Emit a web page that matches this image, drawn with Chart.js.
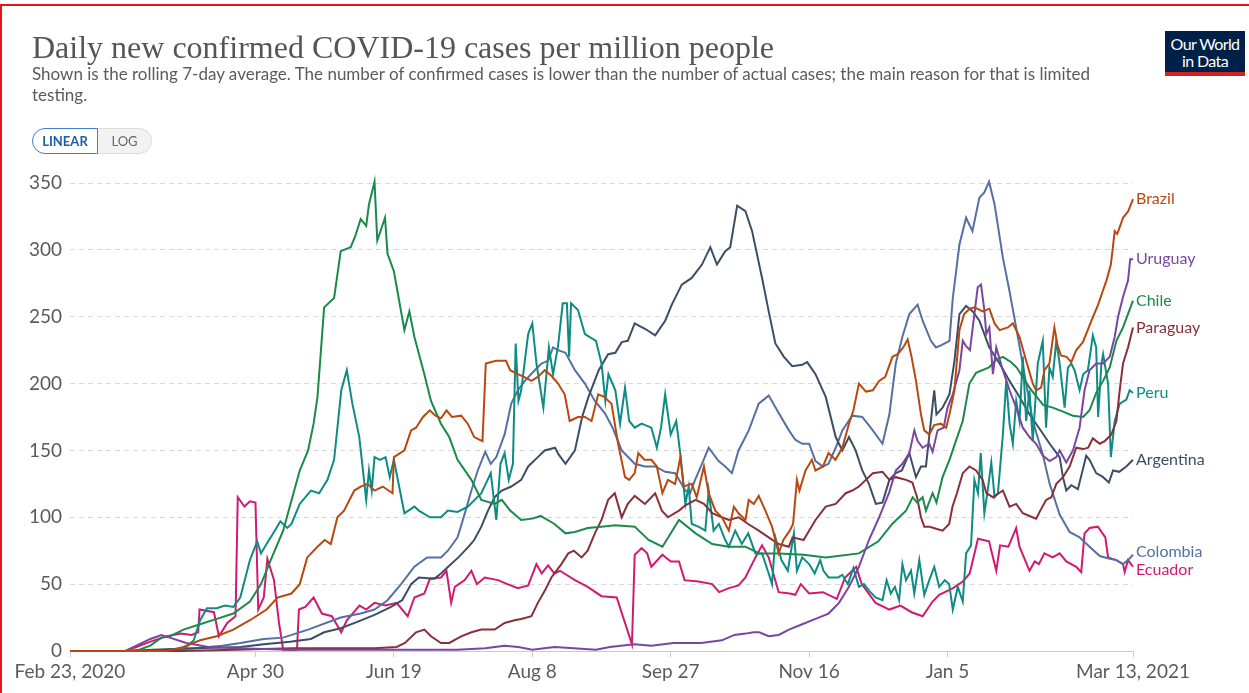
<!DOCTYPE html>
<html>
<head>
<meta charset="utf-8">
<title>Daily new confirmed COVID-19 cases per million people</title>
<script src="https://cdn.jsdelivr.net/npm/chart.js@4.4.1/dist/chart.umd.min.js"></script>
<style>
  html, body { margin: 0; padding: 0; background: #fff; }
  body { width: 1249px; height: 693px; position: relative; overflow: hidden; font-family: Lato, sans-serif; }
  #chart { position: absolute; left: 0; top: 0; }
  #frame { position: absolute; left: 0; top: 4px; width: 1270px; height: 720px; border: 2px solid #e3141b; box-sizing: border-box; pointer-events: none; }
  h1 { position: absolute; left: 32px; top: 31px; margin: 0; font: 400 32px/32px "Liberation Serif", serif; color: #555; white-space: nowrap; }
  .sub { position: absolute; left: 32px; top: 63px; width: 1085px; font: 17px/21px Lato, sans-serif; color: #5b5b5b; }
  .toggle { position: absolute; left: 32px; top: 128px; height: 26px; display: flex; font: 700 13px/24px Lato, sans-serif; }
  .toggle span { display: block; box-sizing: border-box; height: 26px; text-align: center; }
  .toggle .on { width: 66px; border: 1px solid #3f7fcf; border-radius: 13px 0 0 13px; color: #1d5ea8; background: #fff; }
  .toggle .off { width: 54px; border: 1px solid #ddd; border-left: none; border-radius: 0 13px 13px 0; color: #666; background: #f2f2f2; font-weight: 400; }
  .logo { position: absolute; left: 1165px; top: 31px; width: 80px; height: 45px; background: #002147; border-bottom: 4px solid #ce261e; box-sizing: border-box; color: #fff; text-align: center; font: 16px/17px Lato, sans-serif; padding-top: 4px; letter-spacing: -0.6px; }
</style>
</head>
<body>
<canvas id="chart" width="1249" height="693"></canvas>
<h1>Daily new confirmed COVID-19 cases per million people</h1>
<div class="sub">Shown is the rolling 7-day average. The number of confirmed cases is lower than the number of actual cases; the main reason for that is limited testing.</div>
<div class="toggle"><span class="on">LINEAR</span><span class="off">LOG</span></div>
<div class="logo">Our World<br>in Data</div>
<div id="frame"></div>
<script>
// days since Feb 23, 2020 on the x axis
const tickDays = [0, 67, 117, 167, 217, 267, 317, 384];
const tickLabels = ['Feb 23, 2020', 'Apr 30', 'Jun 19', 'Aug 8', 'Sep 27', 'Nov 16', 'Jan 5', 'Mar 13, 2021'];

const countries = ['Brazil', 'Uruguay', 'Chile', 'Paraguay', 'Peru', 'Argentina', 'Colombia', 'Ecuador'];
const colors = ['#b8480f', '#7a46a0', '#1a8a4a', '#883039', '#0e8c84', '#3c4e66', '#5570a2', '#d01a72'];

// [day, cases per million]
const brazil = [[0,0],[35,0],[41,3],[47,8],[53,11],[59,16],[65,23],[71,31],[75,40],[80,43],[83,50],[85.7,70],[89.4,78],[92,83],[94.2,80],[96.6,100],[99,105],[102.7,120],[105,123],[107.5,125],[110,120],[113,123],[116.5,118],[117,145],[120.8,150],[123.2,165],[125,167],[127.5,175],[130,180],[132,176],[134,174],[136,180],[138,175],[141.3,176],[143.7,170],[146,160],[149,157],[150.2,215],[153.9,217],[157.5,217],[159,210],[161.8,207],[164,205],[166.7,202],[169,205],[171.5,210],[173.8,206],[176.3,200],[178.7,192],[180.5,172],[183.5,175],[186,175],[188.4,172],[190.8,192],[193,190],[195.6,185],[198,155],[200.5,130],[202,128],[204,133],[205.3,148],[207.5,143],[210,143],[212,138],[214,118],[216,128],[218.6,125],[220.5,145],[221.7,123],[224.6,125],[226.4,115],[229,138],[230.7,118],[233.1,105],[235.5,100],[238,90],[239.8,108],[241.5,103],[244,98],[245.2,113],[247,110],[248.8,116],[251.2,105],[253.6,93],[256,73],[257.7,83],[260,90],[261.2,95],[262.6,128],[263.5,120],[265.7,135],[268,143],[269.3,135],[272,138],[274,148],[276.5,143],[279,152],[281.4,170],[283,180],[285,200],[287.5,194],[290,195],[292.3,202],[294.5,205],[297.1,220],[299,222],[301,227],[302.6,233],[304,220],[305.6,202],[307.4,177],[308.6,165],[310.4,162],[312.2,169],[314.6,170],[316.5,167],[317.7,177],[319.5,195],[321.3,240],[323,252],[325,256],[326.7,257],[329.7,254],[332.1,256],[334,245],[335.8,240],[338.8,242],[340.6,245],[343,235],[345.4,217],[347.8,200],[349,195],[350.8,197],[352,210],[353.8,215],[355.6,242],[356.8,228],[358,221],[360,220],[361.7,216],[363.5,225],[365.9,231],[369,247],[371.4,259],[373.2,270],[374.4,277],[376,289],[377.4,314],[378.3,312],[379.2,317],[380.4,324],[382.3,329],[384,338]];

const uruguay = [[0,0],[20,0],[24,4],[29,9],[33,12],[36,10],[42,6],[50,3],[60,2],[80,1],[100,1],[120,1],[140,1],[150,2],[157,4],[162,3],[167,1],[175,3],[182,2],[190,1],[195,3],[199,4],[204,5],[210,4],[218,6],[228,6],[235.5,8],[240,12],[244,13],[247,14],[249,14],[252.4,11],[256,12],[259.7,16],[264.5,20],[269.3,24],[274,28],[277.8,36],[281.4,48],[285,63],[288.6,83],[292.3,100],[296,119],[298.3,135],[300.7,140],[303.2,148],[305,165],[306.2,157],[308,152],[310.4,155],[311.6,149],[313.4,165],[315.6,167],[317,182],[318.9,192],[321.3,210],[322.5,232],[323.7,228],[325.1,225],[326.7,252],[327.9,272],[329.1,274],[330.3,255],[331,237],[332.1,242],[333.4,207],[334.6,227],[337,210],[339.4,195],[341.8,182],[344.2,167],[346.6,160],[349,155],[351.5,146],[353.9,142],[356.3,145],[357.5,150],[359.9,141],[362.3,150],[364.7,167],[366.5,195],[368.3,210],[370.7,215],[373.2,215],[375.6,220],[377.4,235],[378.6,250],[380.4,265],[382.2,277],[383,293],[384,293]];

const chile = [[0,0],[22,0],[25,1],[29,4],[33,10],[36,11],[41,16],[47,20],[53,24],[59,28],[65,37],[69,50],[72.5,68],[77,90],[81,120],[83,135],[86,150],[88,170],[89.4,190],[91.8,257],[95.4,264],[97.8,299],[101.4,302],[103,310],[105,323],[107,318],[108,334],[110,351],[111,307],[113.8,324],[114.7,297],[117,284],[120.8,240],[122.6,254],[124.4,235],[128,207],[130.4,187],[134,170],[137,160],[140,143],[145,128],[148.6,113],[153.4,110],[156,113],[159,105],[163,98],[167,99],[170,101],[175,95],[179,88],[182.4,89],[187,92],[192,93],[197,94],[204,93],[209,83],[214,78],[220,98],[226,88],[232,80],[238,78],[244,78],[249,73],[256,73],[265,72],[273,70],[285,73],[292,82],[297,95],[302,105],[304.4,115],[306,111],[308,115],[309.2,105],[311.6,118],[313,111],[315.2,130],[317.7,143],[320,157],[322.5,172],[324.9,200],[327.3,208],[332,212],[334.6,218],[337,220],[340,216],[342,212],[346.6,197],[351.5,184],[355,182],[358.7,179],[362.3,176],[366,175],[368.3,180],[370.7,193],[373.2,202],[375.6,212],[378,232],[380.4,242],[384,262]];

const paraguay = [[0,0],[40,0],[60,1],[80,2],[100,2],[110,2],[118,3],[121,6],[125,14],[128,16],[130.4,11],[134,6],[137,6],[141.3,11],[145,14],[148.6,16],[153.4,16],[157,21],[160.6,23],[163,24],[166.7,26],[169,36],[171.5,45],[173.9,55],[177.5,65],[180,73],[182,75],[184.8,70],[187,75],[189.6,88],[192,98],[194.4,113],[196.8,118],[199.3,100],[201.5,110],[204,116],[207.7,110],[211.4,118],[213.8,105],[216,100],[220,105],[222.3,109],[226,113],[229,110],[232,103],[235.5,100],[238,98],[241.5,100],[245,95],[248.8,90],[252.4,85],[256,80],[259.7,78],[261,85],[265,83],[267,90],[269.3,98],[273,108],[276.6,110],[280.2,118],[282.6,120],[285,123],[287.5,128],[290,133],[293.5,134],[296,128],[298.3,130],[302,128],[304.3,126],[306,115],[307.4,100],[308.6,93],[310.4,93],[312,92],[315.2,90],[317.6,95],[318.8,108],[320.4,118],[322.5,133],[324.9,138],[327.3,135],[329.7,128],[331,118],[333.4,115],[337,120],[339.4,108],[341.8,110],[344.2,103],[346.6,101],[349,99],[350.5,105],[352.6,113],[354.5,115],[356.3,125],[358.7,130],[361.1,138],[363.5,152],[366,151],[367.8,152],[369.5,159],[372,155],[373.8,157],[376.2,162],[378,172],[379.2,195],[380.4,215],[382.2,227],[384,242]];

const peru = [[0,0],[38,0],[42,3],[44.7,8],[47,23],[49.5,32],[53,32],[56,34],[59,33],[61.5,40],[65,68],[67.6,82],[69,73],[71,80],[73.7,89],[76,97],[78.5,92],[80,95],[83,110],[87,120],[90,118],[93,128],[95.4,143],[98,195],[100,210],[102,185],[104.5,160],[107,113],[108,135],[109,120],[110,145],[112,143],[114,145],[115.5,130],[117,143],[120.8,103],[124.4,108],[126,105],[130,100],[134,100],[136.5,105],[140,104],[143.7,108],[148.6,118],[152,133],[154,98],[155.5,140],[157,148],[158.5,128],[160,140],[161,230],[162,187],[163,195],[165.5,237],[167,245],[168.5,215],[171,182],[173,227],[174.5,207],[176.3,228],[178,260],[179.5,260],[180.3,220],[181,260],[183.5,255],[186,237],[190,232],[192,215],[193.4,187],[194.5,207],[197,195],[198.7,170],[200.5,197],[202,172],[204,167],[206.5,170],[210,167],[212,152],[213.5,167],[215,192],[217,162],[219,172],[220.5,147],[222.3,110],[223.5,123],[224.6,95],[227,93],[229.5,90],[230.7,120],[232.5,90],[234.4,95],[236.7,83],[238,78],[240.3,90],[242.7,80],[245,88],[247.6,73],[250,73],[252.4,58],[253.6,50],[254.8,85],[257,68],[259.3,60],[261.5,88],[262.6,60],[264.5,70],[267,65],[269,58],[271,68],[272.2,60],[274,55],[277.5,55],[279,57],[281,50],[283,62],[285,48],[286.8,50],[288.7,45],[291,40],[293.5,38],[295,53],[296.5,43],[298,48],[299.5,38],[300.7,65],[302,53],[303.8,60],[305,43],[306.8,68],[308.6,42],[310.4,53],[312.2,63],[314,48],[316,53],[317.6,50],[318.9,31],[320.7,48],[322.5,37],[323.7,73],[325.5,79],[326.7,128],[328,118],[329,148],[330.3,103],[331.5,120],[332.8,141],[334,115],[335.2,118],[337,162],[338.2,202],[339.4,170],[340.6,155],[341.8,187],[343,172],[344.2,220],[345.4,172],[346.6,195],[347.8,157],[349.6,215],[351.4,232],[352.6,167],[353.8,212],[355,205],[356.3,232],[357.5,215],[359.3,182],[360.5,212],[361.7,215],[362.9,210],[364.7,195],[366,207],[367.7,210],[369.5,236],[370.7,227],[371.4,175],[372.6,215],[373.2,222],[375,200],[376,145],[377.4,172],[379.2,185],[381.6,188],[382.8,195],[384,193]];

const argentina = [[0,0],[20,0],[30,1],[45,2],[61.6,3],[70,5],[79.5,7],[87,9],[91.8,14],[97.8,17],[104,22],[110,27],[116,33],[120,38],[123.2,50],[126,55],[131.6,54],[134,58],[136.6,63],[140.3,70],[144,78],[146,83],[148.6,93],[151,105],[153.4,115],[156,120],[159.4,123],[163,128],[165.5,138],[169,145],[171.5,150],[175.2,152],[176.5,147],[179,140],[182.4,150],[185,175],[187.3,190],[191,210],[194.4,222],[197,223],[199.3,231],[201.5,232],[204,245],[207.7,241],[211.4,236],[215,247],[217.4,259],[221,274],[224.6,279],[228.3,289],[231.3,302],[233.7,289],[236.7,299],[238.5,302],[241,333],[244,329],[246.4,314],[250,279],[252.4,254],[254.8,230],[257.9,220],[260.9,213],[264.5,214],[266.3,216],[269.3,207],[273,190],[276.6,160],[279,150],[281.4,160],[283.8,150],[286.2,135],[288.6,125],[291.1,110],[293.5,111],[296,128],[298.3,133],[300.5,135],[303.2,148],[305.6,130],[307.4,138],[309.2,138],[312.2,195],[313,177],[315.2,182],[317.7,192],[319.5,217],[321.3,252],[323.7,258],[326.1,254],[328.5,247],[332.1,227],[335.8,215],[339.4,202],[343,190],[346.6,177],[350.3,166],[353.9,155],[357.5,145],[358.7,130],[359.9,120],[361.7,124],[364.1,121],[367.1,146],[368.3,143],[370.7,133],[373.2,130],[375.3,126],[376.8,135],[379,134],[381.6,138],[384,143]];

const colombia = [[0,0],[30,0],[35,1],[45,2],[55,4],[61.6,6],[70,9],[77,10],[86,16],[97.8,25],[105,28],[110,31],[114.7,38],[119.6,50],[124.4,63],[129,70],[134,70],[136.5,75],[140,85],[142.5,102],[145,120],[147.3,135],[150,149],[152,140],[154,145],[157,162],[159.4,185],[161.8,195],[164.3,202],[167.9,210],[170.3,215],[172.7,217],[174.5,227],[176.3,225],[179,223],[182.4,210],[186,200],[189.6,187],[193.2,178],[196,167],[199.3,150],[204,140],[207.7,138],[211.4,138],[215,134],[218.6,133],[222.3,120],[224,118],[225.8,128],[228.3,140],[230.7,152],[234.3,142],[236.7,138],[239.1,133],[241.5,150],[245.2,165],[248.8,185],[252.4,191],[256,178],[259.7,165],[262,158],[264.5,155],[267,155],[269.3,142],[272,138],[274,140],[276.6,152],[279,165],[282.6,176],[286.2,175],[290,165],[293.5,155],[296,177],[298.3,215],[300.7,235],[303.2,252],[306.2,259],[308,247],[311,232],[312.8,227],[315,229],[317.7,232],[318.9,264],[321.3,304],[323.7,324],[326,314],[328.5,339],[330.3,343],[332,351],[334,334],[337,294],[339.4,269],[342.4,235],[345.4,200],[347.8,172],[351.4,147],[353.9,125],[355,118],[357.5,102],[361.1,89],[364.7,85],[368.3,78],[372,71],[375.6,69],[378,68],[380.4,65],[382.2,68],[384,72]];

const ecuador = [[0,0],[20,0],[24,3],[29,7],[35,11],[40,13],[44,12],[46.3,14],[46.8,31],[52,29],[53.8,11],[56.8,21],[59.8,26],[60.6,115],[63,108],[65,112],[67,111],[68,31],[70,40],[71.3,69],[73.7,53],[75.5,21],[77,1],[82,1],[82.7,31],[85,33],[88,40],[91,28],[94.6,26],[98,14],[100,23],[104.6,34],[107,31],[110,36],[114,34],[118,36],[120,31],[122,26],[124.4,40],[128,43],[130,54],[134,55],[136,60],[137.7,36],[139,48],[142.6,53],[145,60],[147,50],[149.8,55],[154.6,53],[158,50],[161.8,47],[165.5,49],[168.5,65],[170.4,58],[172.7,64],[175,58],[177,60],[182.4,53],[187,48],[192,41],[197.5,40],[203,5],[204,72],[206.5,77],[208.5,73],[210,63],[214,72],[217,67],[220,67],[222,53],[227,52],[232,50],[234.5,44],[238,47],[241.5,49],[244,55],[247.6,70],[250,79],[252.4,70],[256,44],[260,43],[262,42],[264,50],[267,43],[272,44],[277,39],[280,55],[284,63],[286,50],[291,36],[296,31],[300,34],[304,29],[308,26],[311.6,37],[314,42],[319,47],[322.5,52],[325,58],[328,84],[332,82],[334.6,60],[336,79],[339,78],[341.8,92],[343,78],[346.6,60],[348.5,67],[350,65],[352,73],[355,70],[357.5,73],[359.9,67],[363.5,63],[365.3,59],[366.5,88],[368.3,92],[371.3,93],[374,85],[375,70],[378,68],[380.4,65],[381,59],[382.2,68],[384,63]];

const seriesData = [brazil, uruguay, chile, paraguay, peru, argentina, colombia, ecuador];

// country names at the right end of each line, pushed apart when they collide
const endLabels = {
  id: 'endLabels',
  afterDatasetsDraw(chart) {
    const { ctx, chartArea, scales } = chart;
    const items = chart.data.datasets.map(ds => ({
      text: ds.label,
      color: ds.borderColor,
      y: scales.y.getPixelForValue(ds.data[ds.data.length - 1].y)
    })).sort((a, b) => a.y - b.y);
    const gap = 18;
    for (let k = 0; k < 20; k++) {
      for (let i = 1; i < items.length; i++) {
        const d = items[i].y - items[i - 1].y;
        if (d < gap) {
          const s = (gap - d) / 2;
          items[i].y += s;
          items[i - 1].y -= s;
        }
      }
    }
    ctx.save();
    ctx.font = '16px Lato';
    ctx.textBaseline = 'middle';
    items.forEach(it => {
      ctx.fillStyle = it.color;
      ctx.fillText(it.text, chartArea.right + 3, it.y);
    });
    ctx.restore();
  }
};

new Chart(document.getElementById('chart').getContext('2d'), {
  type: 'line',
  data: {
    datasets: countries.map((name, i) => ({
      label: name,
      data: seriesData[i].map(p => ({ x: p[0], y: p[1] })),
      borderColor: colors[i],
      backgroundColor: colors[i],
      borderWidth: 2,
      pointRadius: 0,
      tension: 0,
      clip: false
    }))
  },
  options: {
    responsive: false,
    animation: false,
    layout: { padding: { left: 0, top: 183, right: 116, bottom: 0 } },
    plugins: { legend: { display: false }, tooltip: { enabled: false } },
    scales: {
      x: {
        type: 'linear',
        min: 0,
        max: 384,
        afterBuildTicks: scale => { scale.ticks = tickDays.map(v => ({ value: v })); },
        afterFit: scale => { scale.height = 42; },
        ticks: {
          autoSkip: false,
          maxRotation: 0,
          padding: 3,
          color: '#5b5b5b',
          font: { family: 'Lato', size: 19 },
          callback: v => tickLabels[tickDays.indexOf(v)]
        },
        grid: { display: true, drawOnChartArea: false, drawTicks: true, tickLength: 6, color: '#ccc' },
        border: { display: true, color: '#ccc', width: 1 }
      },
      y: {
        min: 0,
        max: 350,
        afterFit: scale => { scale.width = 70; },
        ticks: {
          stepSize: 50,
          padding: 8,
          color: '#5b5b5b',
          font: { family: 'Lato', size: 19 }
        },
        grid: { color: '#d9d9d9', drawTicks: false, lineWidth: 1 },
        border: { display: false, dash: [5, 4] }
      }
    }
  },
  plugins: [endLabels]
});
</script>
</body>
</html>
